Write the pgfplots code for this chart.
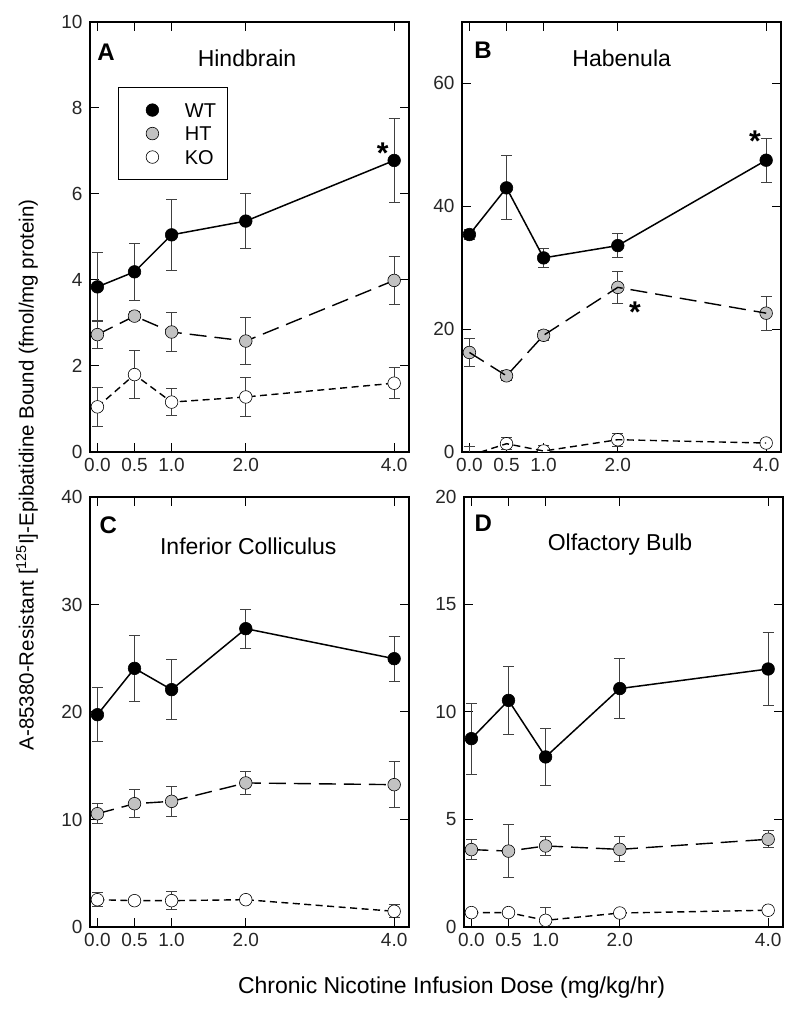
\documentclass[border=0pt]{standalone}
\usepackage{pgfplots}
\usepackage{pgfplotstable}
\pgfplotsset{compat=1.18}
\usepackage{fontspec}
\setmainfont{Liberation Sans}
\definecolor{htgray}{gray}{0.76}
\definecolor{ebgray}{gray}{0.25}

\pgfplotstableread{
x wt wte ht hte ko koe
0 3.84 0.80 2.73 0.32 1.05 0.45
0.5 4.19 0.66 3.16 0.10 1.80 0.55
1 5.05 0.82 2.79 0.45 1.16 0.32
2 5.37 0.64 2.58 0.54 1.28 0.46
4 6.78 0.97 3.99 0.55 1.60 0.36
}\tabA
\pgfplotstableread{
x wt wte ht hte ko koe
0 35.4 0.8 16.2 2.3 -0.6 1.5
0.5 43.0 5.2 12.4 0.8 1.35 1.0
1 31.6 1.6 19.0 0.8 0.16 0.9
2 33.6 2.0 26.8 2.6 2.0 1.05
4 47.5 3.6 22.6 2.8 1.46 0.5
}\tabB
\pgfplotstableread{
x wt wte ht hte ko koe
0 19.75 2.5 10.54 0.93 2.54 0.65
0.5 24.06 3.07 11.47 1.3 2.45 0.2
1 22.08 2.8 11.69 1.37 2.45 0.84
2 27.75 1.8 13.40 1.05 2.54 0.2
4 24.96 2.1 13.24 2.15 1.46 0.6
}\tabC
\pgfplotstableread{
x wt wte ht hte ko koe
0 8.76 1.65 3.60 0.48 0.67 0.1
0.5 10.54 1.6 3.53 1.22 0.67 0.1
1 7.91 1.31 3.77 0.46 0.31 0.6
2 11.09 1.38 3.61 0.58 0.65 0.1
4 12.0 1.68 4.08 0.4 0.78 0.15
}\tabD

\pgfplotsset{
  panel/.style={
    scale only axis, width=319pt, height=430pt,
    xmin=-0.1, xmax=4.2,
    xtick={0,0.5,1,2,4}, xticklabels={0.0,0.5,1.0,2.0,4.0},
    tick align=inside, major tick length=9pt,
    every tick/.style={black, line width=1pt},
    axis line style={line width=1.8pt},
    tick label style={font=\fontsize{19}{19}\selectfont, text=black!85},
    yticklabel style={xshift=-4pt},
    xticklabel style={yshift=-3pt},
    /pgf/number format/assume math mode=true,
    legend image code/.code={\path[draw=none] (0pt,0pt) -- (36pt,0pt); \draw[#1] plot coordinates {(24.5pt,0pt)};},
  },
  errs/.style={error bars/.cd, y dir=both, y explicit,
    error bar style={ebgray, line width=0.9pt, solid},
    error mark options={rotate=90, ebgray, mark size=5.5pt, line width=0.9pt}},
  wt/.style={only marks, mark=*, mark size=6.3pt, mark options={solid, fill=black, draw=black, line width=0.6pt}, errs},
  ht/.style={only marks, mark=*, mark size=6.3pt, mark options={solid, fill=htgray, draw=black, line width=0.6pt}, errs},
  ko/.style={only marks, mark=*, mark size=6.3pt, mark options={solid, fill=white, draw=black, line width=0.6pt}, errs},
  wtl/.style={black, line width=1.5pt, solid, mark=none, forget plot},
  htl/.style={black, line width=1.4pt, dash pattern=on 17pt off 8pt, mark=none, forget plot},
  kol/.style={black, line width=1.4pt, dash pattern=on 7pt off 4.5pt, mark=none, forget plot},
}

\newcommand{\drawseries}[1]{%
  \addplot[wt] table[x=x, y=wt, y error=wte] {#1};
  \addplot[ht] table[x=x, y=ht, y error=hte] {#1};
  \addplot[ko] table[x=x, y=ko, y error=koe] {#1};
  \addplot[wtl] table[x=x, y=wt] {#1};
  \addplot[htl] table[x=x, y=ht] {#1};
  \addplot[kol] table[x=x, y=ko] {#1};
}

\begin{document}
\begin{tikzpicture}[x=1pt,y=1pt]
\path[use as bounding box] (0,0) rectangle (800,1017);

% Panel A
\begin{axis}[panel, at={(90pt,565pt)}, anchor=south west,
  ymin=0, ymax=10, ytick={0,2,4,6,8,10},
  legend style={at={(0.0878,0.849)}, anchor=north west, draw=black, line width=0.8pt,
    fill=white, font=\fontsize{20}{20}\selectfont, inner xsep=9.5pt, inner ysep=13.5pt,
    row sep=5pt, nodes={inner sep=2pt, text height=14.5pt, text depth=0pt},
    /tikz/every odd column/.append style={column sep=19pt}},
  legend cell align=left]
\drawseries{\tabA}
\legend{WT,HT,KO}
\end{axis}

% Panel B
\begin{axis}[panel, at={(462pt,565pt)}, anchor=south west,
  ymin=0, ymax=70, ytick={0,20,40,60}, clip marker paths=true]
\drawseries{\tabB}
\end{axis}

% Panel C
\begin{axis}[panel, at={(90pt,90pt)}, anchor=south west,
  ymin=0, ymax=40, ytick={0,10,20,30,40}]
\drawseries{\tabC}
\end{axis}

% Panel D
\begin{axis}[panel, at={(464pt,90pt)}, anchor=south west,
  ymin=0, ymax=20, ytick={0,5,10,15,20}]
\drawseries{\tabD}
\end{axis}

% Panel letters and titles
\node[font=\fontsize{24}{24}\selectfont\bfseries] at (106,965) {A};
\node[font=\fontsize{23}{23}\selectfont] at (247,959) {Hindbrain};
\node[font=\fontsize{24}{24}\selectfont\bfseries] at (483,967) {B};
\node[font=\fontsize{23}{23}\selectfont] at (621.7,958.7) {Habenula};
\node[font=\fontsize{24}{24}\selectfont\bfseries] at (108.3,492) {C};
\node[font=\fontsize{23}{23}\selectfont] at (248.3,471) {Inferior Colliculus};
\node[font=\fontsize{24}{24}\selectfont\bfseries] at (483.3,493.7) {D};
\node[font=\fontsize{23}{23}\selectfont] at (620,472) {Olfactory Bulb};

% asterisks
\node[font=\fontsize{30}{30}\selectfont\bfseries, anchor=base, inner sep=0pt] at (382.7,853) {*};
\node[font=\fontsize{30}{30}\selectfont\bfseries, anchor=base, inner sep=0pt] at (755,865) {*};
\node[font=\fontsize{30}{30}\selectfont\bfseries, anchor=base, inner sep=0pt] at (635,694) {*};

% axis labels
\node[font=\fontsize{23}{23}\selectfont] at (451.5,29) {Chronic Nicotine Infusion Dose (mg/kg/hr)};
\node[rotate=90, font=\fontsize{20.5}{20.5}\selectfont] at (27,542) {A-85380-Resistant [\textsuperscript{125}I]-Epibatidine Bound (fmol/mg protein)};
\end{tikzpicture}
\end{document}
